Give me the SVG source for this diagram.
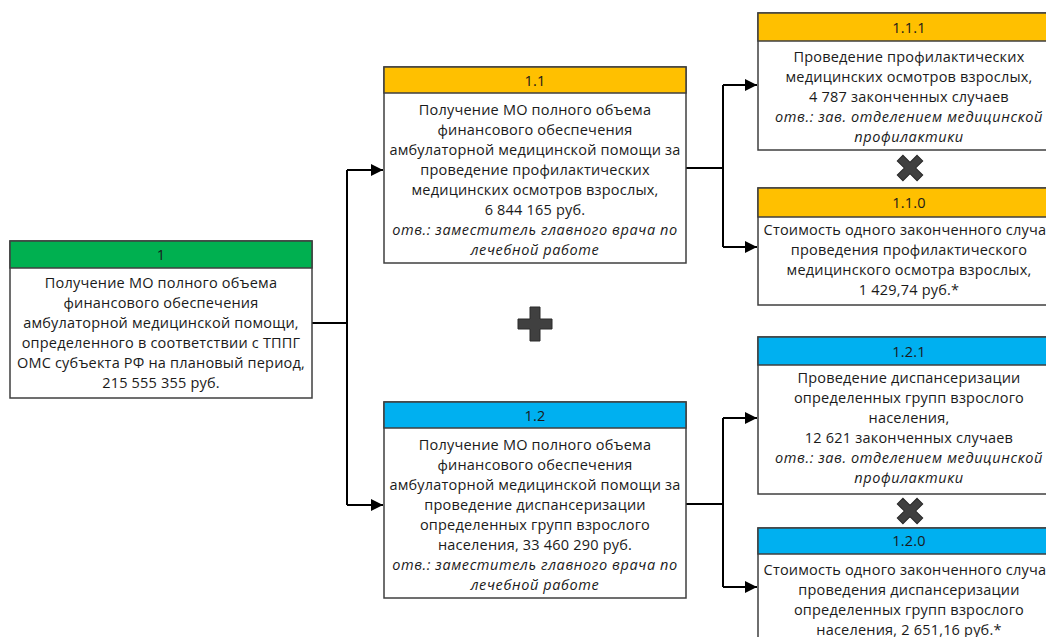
<svg xmlns="http://www.w3.org/2000/svg" width="1046" height="637" viewBox="0 0 1046 637">
  <style>
    .box { fill: #ffffff; stroke: #3f3f3f; stroke-width: 1.5; }
    .hd { stroke: #3f3f3f; stroke-width: 1.5; }
    .green { fill: #00b050; }
    .orange { fill: #ffc000; }
    .blue { fill: #00b0f0; }
    text { font-family: "Open Sans", "DejaVu Sans", sans-serif; font-size: 14.5px; letter-spacing: 0.2px; fill: #1a1a1a; text-anchor: middle; }
    .it { font-style: italic; letter-spacing: 0.6px; }
    .wire { fill: none; stroke: #000000; stroke-width: 2; }
    .op { fill: #404040; stroke: #2a2a2a; stroke-width: 1; }
  </style>
  <defs>
    <marker id="arrow" viewBox="0 0 10 10" refX="10" refY="5" markerWidth="6" markerHeight="6" markerUnits="strokeWidth" orient="auto">
      <path d="M0,0 L10,5 L0,10 Z" fill="#000000"/>
    </marker>
  </defs>
  <rect width="1046" height="637" fill="#ffffff"/>

  <g id="connectors">
    <path class="wire" d="M312,323 H347"/>
    <path class="wire" d="M347,170 V505"/>
    <path class="wire" d="M347,170 H383" marker-end="url(#arrow)"/>
    <path class="wire" d="M347,505 H383" marker-end="url(#arrow)"/>
    <path class="wire" d="M686,168 H723"/>
    <path class="wire" d="M723,85 V247"/>
    <path class="wire" d="M723,85 H757" marker-end="url(#arrow)"/>
    <path class="wire" d="M723,247 H757" marker-end="url(#arrow)"/>
    <path class="wire" d="M686,504 H723"/>
    <path class="wire" d="M723,418 V587"/>
    <path class="wire" d="M723,418 H757" marker-end="url(#arrow)"/>
    <path class="wire" d="M723,587 H757" marker-end="url(#arrow)"/>
  </g>

  <!-- operators -->
  <g id="plus">
    <path class="op" d="M530,307 H540 V319 H552 V329 H540 V341 H530 V329 H518 V319 H530 Z"/>
  </g>
  <g id="times-1">
    <path class="op" transform="translate(910,168) rotate(45)" d="M-4,-14 H4 V-4 H14 V4 H4 V14 H-4 V4 H-14 V-4 H-4 Z"/>
  </g>
  <g id="times-2">
    <path class="op" transform="translate(910,511) rotate(45)" d="M-4,-14 H4 V-4 H14 V4 H4 V14 H-4 V4 H-14 V-4 H-4 Z"/>
  </g>

  <g id="node-1">
    <rect class="box" x="10" y="241" width="302" height="157"/>
    <rect class="hd green" x="10" y="241" width="302" height="27"/>
    <text x="161" y="260">1</text>
    <text x="161" y="288">Получение МО полного объема</text>
    <text x="161" y="308">финансового обеспечения</text>
    <text x="161" y="328">амбулаторной медицинской помощи,</text>
    <text x="161" y="348">определенного в соответствии с ТППГ</text>
    <text x="161" y="368">ОМС субъекта РФ на плановый период,</text>
    <text x="161" y="388">215 555 355 руб.</text>
  </g>

  <g id="node-1-1">
    <rect class="box" x="384" y="67" width="302" height="196"/>
    <rect class="hd orange" x="384" y="67" width="302" height="26"/>
    <text x="535" y="86">1.1</text>
    <text x="535" y="115">Получение МО полного объема</text>
    <text x="535" y="135">финансового обеспечения</text>
    <text x="535" y="155">амбулаторной медицинской помощи за</text>
    <text x="535" y="175">проведение профилактических</text>
    <text x="535" y="195">медицинских осмотров взрослых,</text>
    <text x="535" y="215">6 844 165 руб.</text>
    <text class="it" x="535" y="235">отв.: заместитель главного врача по</text>
    <text class="it" x="535" y="255">лечебной работе</text>
  </g>

  <g id="node-1-2">
    <rect class="box" x="384" y="402" width="302" height="196"/>
    <rect class="hd blue" x="384" y="402" width="302" height="26"/>
    <text x="535" y="421">1.2</text>
    <text x="535" y="450">Получение МО полного объема</text>
    <text x="535" y="470">финансового обеспечения</text>
    <text x="535" y="490">амбулаторной медицинской помощи за</text>
    <text x="535" y="510">проведение диспансеризации</text>
    <text x="535" y="530">определенных групп взрослого</text>
    <text x="535" y="550">населения, 33 460 290 руб.</text>
    <text class="it" x="535" y="570">отв.: заместитель главного врача по</text>
    <text class="it" x="535" y="590">лечебной работе</text>
  </g>

  <g id="node-1-1-1">
    <rect class="box" x="758" y="13" width="302" height="137"/>
    <rect class="hd orange" x="758" y="13" width="302" height="28"/>
    <text x="909" y="33">1.1.1</text>
    <text x="909" y="62">Проведение профилактических</text>
    <text x="909" y="82">медицинских осмотров взрослых,</text>
    <text x="909" y="102">4 787 законченных случаев</text>
    <text class="it" x="909" y="122">отв.: зав. отделением медицинской</text>
    <text class="it" x="909" y="142">профилактики</text>
  </g>

  <g id="node-1-1-0">
    <rect class="box" x="758" y="188" width="302" height="117"/>
    <rect class="hd orange" x="758" y="188" width="302" height="29"/>
    <text x="909" y="208">1.1.0</text>
    <text x="909" y="235">Стоимость одного законченного случая</text>
    <text x="909" y="255">проведения профилактического</text>
    <text x="909" y="275">медицинского осмотра взрослых,</text>
    <text x="909" y="295">1 429,74 руб.*</text>
  </g>

  <g id="node-1-2-1">
    <rect class="box" x="758" y="337" width="302" height="157"/>
    <rect class="hd blue" x="758" y="337" width="302" height="28"/>
    <text x="909" y="357">1.2.1</text>
    <text x="909" y="383">Проведение диспансеризации</text>
    <text x="909" y="403">определенных групп взрослого</text>
    <text x="909" y="423">населения,</text>
    <text x="909" y="443">12 621 законченных случаев</text>
    <text class="it" x="909" y="463">отв.: зав. отделением медицинской</text>
    <text class="it" x="909" y="483">профилактики</text>
  </g>

  <g id="node-1-2-0">
    <rect class="box" x="758" y="528" width="302" height="130"/>
    <rect class="hd blue" x="758" y="528" width="302" height="26"/>
    <text x="909" y="546">1.2.0</text>
    <text x="909" y="575">Стоимость одного законченного случая</text>
    <text x="909" y="595">проведения диспансеризации</text>
    <text x="909" y="615">определенных групп взрослого</text>
    <text x="909" y="635">населения, 2 651,16 руб.*</text>
  </g>
</svg>
